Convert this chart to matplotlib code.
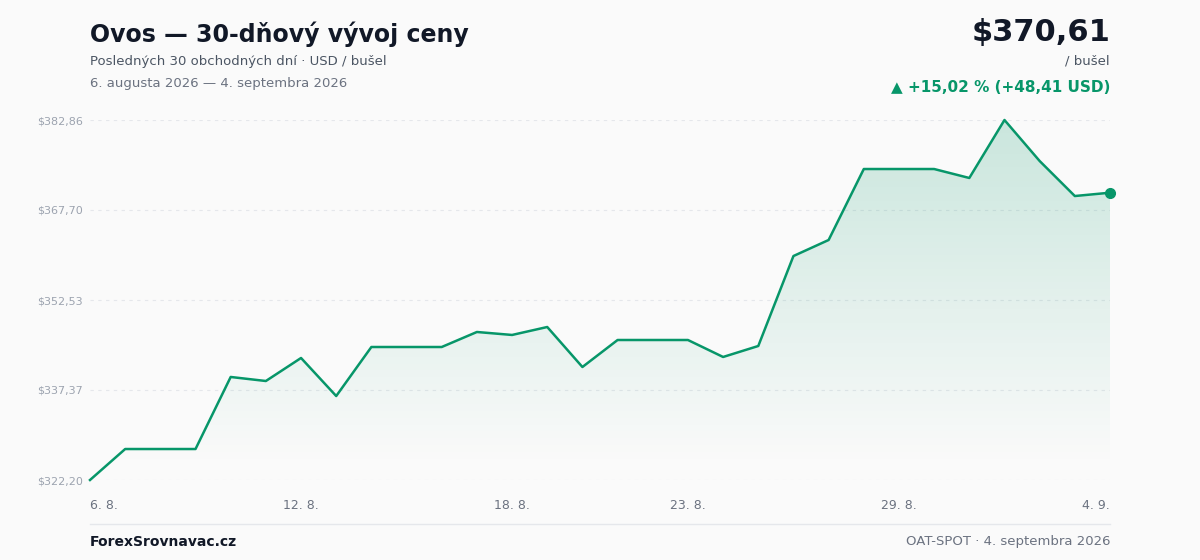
import matplotlib
matplotlib.use("Agg")
import matplotlib.pyplot as plt
import numpy as np
from matplotlib.patches import Polygon

dates = [f"{d}. 8." for d in range(6, 32)] + [f"{d}. 9." for d in range(1, 5)]
prices = [322.20, 327.42, 327.42, 327.42, 339.56, 338.88, 342.76, 336.35, 344.61, 344.61,
          344.61, 347.14, 346.64, 347.98, 341.24, 345.79, 345.79, 345.79, 342.93, 344.78,
          359.94, 362.64, 374.60, 374.60, 374.60, 373.09, 382.86, 375.95, 370.05, 370.61]
yticks = [322.20, 337.37, 352.53, 367.70, 382.86]
xtick_idx = [0, 6, 12, 17, 23, 29]

green = "#079669"
fig = plt.figure(figsize=(12, 5.6), dpi=100)
fig.patch.set_facecolor("#fafafa")
ax = fig.add_axes([0.075, 80/560, 0.85, 360/560])
ax.set_facecolor("#fafafa")
x = np.arange(len(prices))
ax.set_xlim(0, len(prices)-1)
ax.set_ylim(322.20, 382.86)
for s in ax.spines.values():
    s.set_visible(False)
for t in yticks:
    ax.axhline(t, color="#e5e7eb", lw=0.8, ls=(0, (3, 4)), zorder=0)
ax.set_yticks(yticks)
ax.set_yticklabels([f"${t:.2f}".replace(".", ",") for t in yticks], fontsize=8, color="#9ca3af")
ax.tick_params(axis="y", length=0, pad=38)
for lab in ax.get_yticklabels():
    lab.set_horizontalalignment("left")
ax.set_xticks(xtick_idx)
ax.set_xticklabels([dates[i] for i in xtick_idx], fontsize=9, color="#6b7280")
ax.tick_params(axis="x", length=0, pad=14)
xl = ax.get_xticklabels()
xl[0].set_horizontalalignment("left"); xl[-1].set_horizontalalignment("right")

# gradient fill
bottom = 324.5
grad = np.linspace(0, 1, 256).reshape(-1, 1)
from matplotlib.colors import LinearSegmentedColormap
cmap = LinearSegmentedColormap.from_list("g", [(0.03, 0.59, 0.41, 0.0), (0.03, 0.59, 0.41, 0.2)])
im = ax.imshow(grad, aspect="auto", cmap=cmap, origin="lower",
               extent=[0, len(prices)-1, bottom, max(prices)], zorder=1)
poly = Polygon(list(zip(x, prices)) + [(x[-1], bottom), (0, bottom)], closed=True,
               transform=ax.transData, facecolor="none", edgecolor="none")
ax.add_patch(poly)
im.set_clip_path(poly)
ax.set_ylim(322.20, 382.86)
ax.plot(x, prices, color=green, lw=1.8, zorder=3, clip_on=False)
ax.plot(x[-1], prices[-1], "o", color=green, ms=7, zorder=4, clip_on=False)

fig.text(90/1200, 1-34/560, "Ovos — 30-dňový vývoj ceny", fontsize=17, weight="bold", color="#111827", va="center")
fig.text(90/1200, 1-61/560, "Posledných 30 obchodných dní · USD / bušel", fontsize=9.5, color="#4b5563", va="center")
fig.text(90/1200, 1-83/560, "6. augusta 2026 — 4. septembra 2026", fontsize=9.5, color="#6b7280", va="center")
fig.text(1110/1200, 1-33/560, "$370,61", fontsize=22, weight="bold", color="#111827", va="center", ha="right")
fig.text(1110/1200, 1-61/560, "/ bušel", fontsize=9.5, color="#4b5563", va="center", ha="right")
fig.text(1110/1200, 1-87/560, "▲ +15,02 % (+48,41 USD)", fontsize=11, weight="bold", color=green, va="center", ha="right")
fig.add_artist(plt.Line2D([90/1200, 1110/1200], [1-524/560]*2, color="#e5e7eb", lw=1))
fig.text(90/1200, 1-542/560, "ForexSrovnavac.cz", fontsize=10, weight="bold", color="#111827", va="center")
fig.text(1110/1200, 1-542/560, "OAT-SPOT · 4. septembra 2026", fontsize=9.5, color="#6b7280", va="center", ha="right")
fig.savefig("out.png", dpi=100, facecolor=fig.get_facecolor())
